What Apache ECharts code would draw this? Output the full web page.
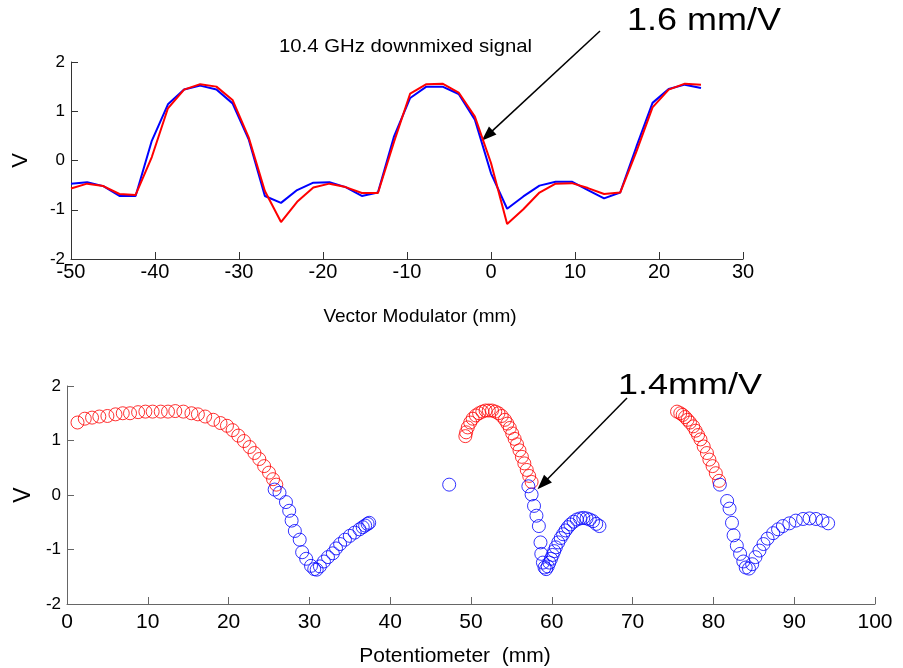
<!DOCTYPE html>
<html>
<head>
<meta charset="utf-8">
<script src="https://cdn.jsdelivr.net/npm/echarts@6/dist/echarts.min.js"></script>
<style>
html,body{margin:0;padding:0;background:#fff;}
#chart{width:903px;height:668px;}
</style>
</head>
<body>
<div id="chart"></div>
<script>
// ---- Top panel: Vector Modulator (mm) vs V ----
const vmX = [-50, -48.08, -46.15, -44.23, -42.31, -40.38, -38.46, -36.54, -34.62, -32.69,
  -30.77, -28.85, -26.92, -25.00, -23.08, -21.15, -19.23, -17.31, -15.38, -13.46,
  -11.54, -9.62, -7.69, -5.77, -3.85, -1.92, 0, 1.92, 3.85, 5.77,
  7.69, 9.62, 11.54, 13.46, 15.38, 17.31, 19.23, 21.15, 23.08, 25.0];
const vmBlue = [-0.47, -0.44, -0.52, -0.72, -0.72, 0.40, 1.14, 1.44, 1.52, 1.44,
  1.16, 0.43, -0.72, -0.86, -0.60, -0.45, -0.44, -0.54, -0.72, -0.65,
  0.49, 1.27, 1.50, 1.50, 1.35, 0.83, -0.26, -0.98, -0.73, -0.51,
  -0.43, -0.43, -0.60, -0.77, -0.65, 0.28, 1.17, 1.45, 1.54, 1.47];
const vmRed = [-0.57, -0.47, -0.52, -0.68, -0.70, 0.07, 1.06, 1.44, 1.55, 1.50,
  1.23, 0.47, -0.62, -1.25, -0.84, -0.55, -0.47, -0.54, -0.66, -0.66,
  0.38, 1.36, 1.55, 1.56, 1.38, 0.89, -0.05, -1.29, -0.99, -0.65,
  -0.47, -0.46, -0.56, -0.68, -0.65, 0.18, 1.08, 1.44, 1.56, 1.54];
const vmTicks = [-50, -40, -30, -20, -10, 0, 10, 20, 30];

// ---- Bottom panel: Potentiometer (mm) vs V ----
const potRedX = [1.3, 2.2, 3.1, 4.0, 5.0, 6.0, 6.9, 7.8, 8.8, 9.7, 10.6, 11.6, 12.5, 13.4, 14.4, 15.4, 16.2, 17.1, 18.1, 19.0, 19.8, 20.5, 21.2, 21.9, 22.6, 23.2, 23.8, 24.4, 25.0, 25.5, 25.9,
  49.3, 49.4, 49.6, 49.9, 50.2, 50.6, 51.0, 51.4, 51.8, 52.2, 52.6, 53.0, 53.4, 53.8, 54.2, 54.5, 54.8, 55.1, 55.4, 55.7, 56.0, 56.3, 56.6, 56.9, 57.2, 57.5,
  75.5, 75.9, 76.2, 76.5, 76.8, 77.1, 77.5, 77.8, 78.1, 78.4, 78.8, 79.2, 79.5, 79.9, 80.3, 80.7];
const potRedV = [1.33, 1.40, 1.42, 1.44, 1.45, 1.48, 1.50, 1.50, 1.52, 1.53, 1.53, 1.53, 1.53, 1.54, 1.53, 1.50, 1.48, 1.44, 1.38, 1.32, 1.27, 1.19, 1.09, 0.99, 0.88, 0.77, 0.66, 0.53, 0.41, 0.29, 0.19,
  1.08, 1.15, 1.24, 1.33, 1.40, 1.46, 1.50, 1.53, 1.55, 1.55, 1.55, 1.53, 1.50, 1.45, 1.38, 1.31, 1.23, 1.13, 1.03, 0.93, 0.82, 0.70, 0.58, 0.46, 0.35, 0.24,
  1.53, 1.50, 1.47, 1.43, 1.38, 1.33, 1.26, 1.18, 1.10, 1.02, 0.89, 0.77, 0.65, 0.53, 0.40, 0.26];
const potBlueX = [25.7, 26.3, 27.1, 27.5, 27.8, 28.2, 28.8, 29.1, 29.6, 30.2, 30.6, 30.9, 31.3, 31.8, 32.3, 32.9, 33.3, 33.8, 34.4, 35.0, 35.6, 36.2, 36.6, 36.9, 37.2, 37.4,
  47.3,
  57.1, 57.5, 57.8, 58.1, 58.4, 58.6, 58.7, 58.9, 59.1, 59.3, 59.5, 59.7, 59.9, 60.1, 60.3, 60.5, 60.8, 61.1, 61.4, 61.7, 62.0, 62.3, 62.7, 63.1, 63.5, 63.9, 64.3, 64.7, 65.1, 65.5, 65.9,
  80.8, 81.7, 82.0, 82.3, 82.5, 82.9, 83.3, 83.7, 84.0, 84.4, 84.8, 85.2, 85.7, 86.2, 86.7, 87.4, 88.0, 88.6, 89.4, 90.2, 91.1, 91.9, 92.7, 93.5, 94.2];
const potBlueV = [0.10, 0.04, -0.13, -0.29, -0.47, -0.66, -0.82, -1.05, -1.17, -1.30, -1.36, -1.37, -1.31, -1.22, -1.14, -1.07, -0.98, -0.90, -0.82, -0.75, -0.69, -0.63, -0.59, -0.56, -0.53, -0.51,
  0.19,
  0.16, 0.01, -0.20, -0.38, -0.57, -0.87, -1.08, -1.24, -1.33, -1.36, -1.31, -1.24, -1.17, -1.10, -1.03, -0.96, -0.87, -0.79, -0.72, -0.65, -0.59, -0.54, -0.49, -0.45, -0.43, -0.42, -0.43, -0.45, -0.48, -0.53, -0.57,
  0.19, -0.11, -0.25, -0.51, -0.74, -0.93, -1.08, -1.22, -1.33, -1.35, -1.27, -1.14, -1.02, -0.90, -0.80, -0.70, -0.63, -0.57, -0.52, -0.47, -0.44, -0.43, -0.44, -0.47, -0.52];
const vTicks = [-2, -1, 0, 1, 2];
const potTicks = [0, 10, 20, 30, 40, 50, 60, 70, 80, 90, 100];

const FONT = '"Liberation Sans", Arial, sans-serif';
const zip = (xs, ys) => xs.map((x, i) => [x, ys[i]]);

function arrow(x1, y1, x2, y2) {
  const dx = x2 - x1, dy = y2 - y1, L = Math.hypot(dx, dy);
  const ux = dx / L, uy = dy / L, hl = 15, hw = 5.5;
  const bx = x2 - ux * hl, by = y2 - uy * hl;
  return [
    {type: 'line', shape: {x1: x1, y1: y1, x2: bx + ux * 2, y2: by + uy * 2}, style: {stroke: '#000', lineWidth: 1.5}},
    {type: 'polygon', shape: {points: [[x2, y2], [bx - uy * hw, by + ux * hw], [bx + uy * hw, by - ux * hw]]}, style: {fill: '#000'}}
  ];
}

function axisCommon(color, fs, margin) {
  return {
    axisLine: {show: true, onZero: false, lineStyle: {color: color, width: 1}},
    axisTick: {show: true, inside: true, length: 7, lineStyle: {color: color}},
    axisLabel: {color: '#000', fontSize: fs, fontFamily: FONT, margin: margin},
    splitLine: {show: false}
  };
}

const chart = echarts.init(document.getElementById('chart'), null, {renderer: 'canvas'});
const option = {
  backgroundColor: '#fff',
  animation: false,
  grid: [
    {left: 71, top: 62, width: 672, height: 197},
    {left: 67, top: 386, width: 808, height: 219}
  ],
  xAxis: [
    Object.assign(axisCommon('#333', 20, 3), {
      gridIndex: 0, type: 'value', min: -50, max: 30, interval: 10,
      name: 'Vector Modulator (mm)', nameLocation: 'middle', nameGap: 48,
      nameTextStyle: {fontSize: 19, fontFamily: FONT, color: '#000', padding: [0, 0, 0, 26]}
    }),
    Object.assign(axisCommon('#666', 21, 8), {
      gridIndex: 1, type: 'value', min: 0, max: 100, interval: 10,
      name: 'Potentiometer  (mm)', nameLocation: 'middle', nameGap: 42,
      nameTextStyle: {fontSize: 21, fontFamily: FONT, color: '#000', padding: [0, 32, 0, 0]}
    })
  ],
  yAxis: [
    Object.assign(axisCommon('#333', 17, 6), {
      gridIndex: 0, type: 'value', min: -2, max: 2, interval: 1,
      name: 'V', nameLocation: 'middle', nameGap: 39, nameRotate: 90,
      nameTextStyle: {fontSize: 22, fontFamily: FONT, color: '#000'}
    }),
    Object.assign(axisCommon('#666', 17, 6), {
      gridIndex: 1, type: 'value', min: -2, max: 2, interval: 1,
      name: 'V', nameLocation: 'middle', nameGap: 32, nameRotate: 90,
      nameTextStyle: {fontSize: 23, fontFamily: FONT, color: '#000'}
    })
  ],
  series: [
    {type: 'line', name: 'blue', xAxisIndex: 0, yAxisIndex: 0, data: zip(vmX, vmBlue),
      showSymbol: false, lineStyle: {color: '#0000ff', width: 2}, itemStyle: {color: '#0000ff'}},
    {type: 'line', name: 'red', xAxisIndex: 0, yAxisIndex: 0, data: zip(vmX, vmRed),
      showSymbol: false, lineStyle: {color: '#ff0000', width: 2}, itemStyle: {color: '#ff0000'}},
    {type: 'scatter', name: 'redPts', xAxisIndex: 1, yAxisIndex: 1, data: zip(potRedX, potRedV),
      symbol: 'circle', symbolSize: 13,
      itemStyle: {color: 'rgba(0,0,0,0)', borderColor: '#ff0000', borderWidth: 1}},
    {type: 'scatter', name: 'bluePts', xAxisIndex: 1, yAxisIndex: 1, data: zip(potBlueX, potBlueV),
      symbol: 'circle', symbolSize: 13,
      itemStyle: {color: 'rgba(0,0,0,0)', borderColor: '#0000ff', borderWidth: 1}}
  ],
  graphic: [
    {type: 'text', x: 279, y: 47, scaleX: 1.07, style: {text: '10.4 GHz downmixed signal', font: '19px ' + FONT, fill: '#000', align: 'left', verticalAlign: 'middle'}},
    {type: 'text', x: 627, y: 21, scaleX: 1.16, style: {text: '1.6 mm/V', font: '31px ' + FONT, fill: '#000', align: 'left', verticalAlign: 'middle'}},
    {type: 'text', x: 618, y: 386, scaleX: 1.2, style: {text: '1.4mm/V', font: '30px ' + FONT, fill: '#000', align: 'left', verticalAlign: 'middle'}}
  ].concat(arrow(600, 31, 481.7, 140.7), arrow(627, 398, 537.5, 489.3))
};
chart.setOption(option);
</script>
</body>
</html>
